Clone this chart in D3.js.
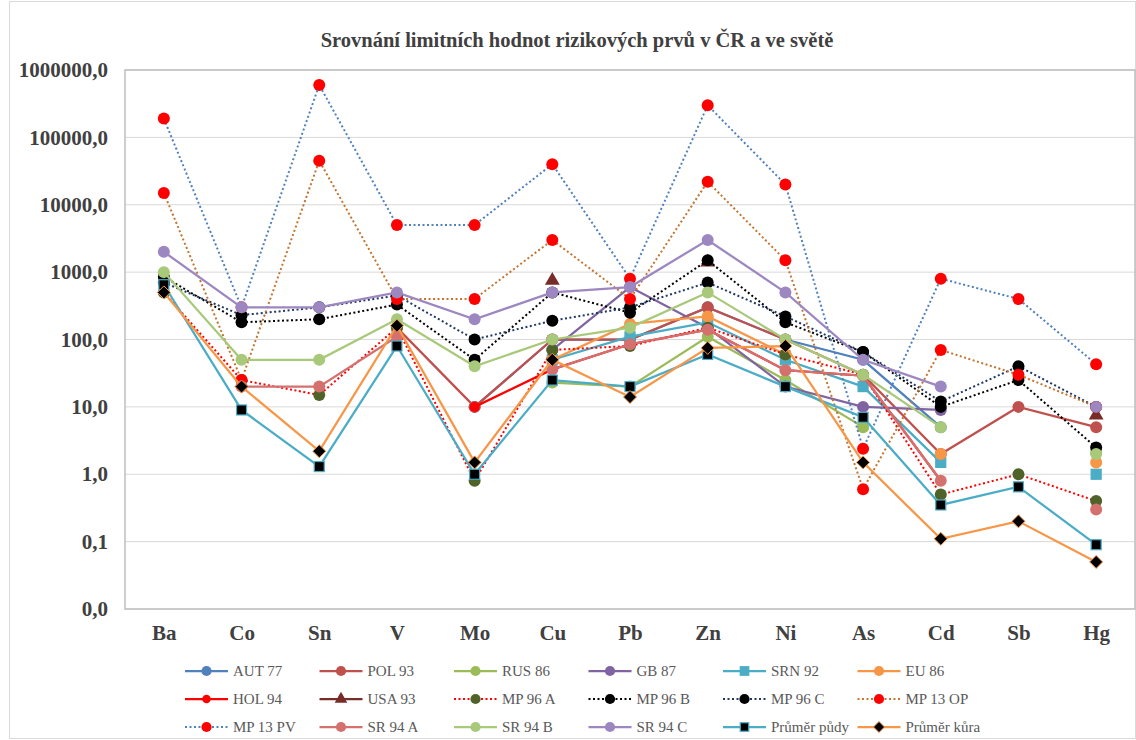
<!DOCTYPE html>
<html>
<head>
<meta charset="utf-8">
<script src="https://cdn.jsdelivr.net/npm/d3@7"></script>
<style>
  body { margin: 0; background: #fff; }
  svg { display: block; }
  svg text { font-family: "Liberation Serif", "Times New Roman", serif; }
</style>
</head>
<body>
<svg id="chart"></svg>
<script>
// Categories (elements)
const elements = ["Ba", "Co", "Sn", "V", "Mo", "Cu", "Pb", "Zn", "Ni", "As", "Cd", "Sb", "Hg"];

// Series values (mg/kg), null = no value
const aut77   = [null, null, null, null, 10, 100, 100, 300, 100, 50, 5, null, null];
const pol93   = [null, null, null, 150, 10, 100, 100, 300, 100, 30, 2, 10, 5];
const rus86   = [null, null, null, 150, null, 23, 20, 110, 25, 5, null, null, 2.1];
const gb87    = [null, null, null, null, null, 70, 600, 150, 20, 10, 9, null, null];
const srn92   = [null, null, null, null, null, 50, 110, 180, 50, 20, 1.5, null, 1];
const eu86    = [null, null, null, null, null, 50, 170, 220, 60, null, 2, null, 1.5];
const hol94   = [null, null, null, null, 10, 36, 85, 140, 35, 29, 0.8, null, 0.3];
const usa93   = [null, null, null, null, null, 750, null, 1400, null, null, null, null, 7.5];
const mp96a   = [500, 25, 15, 150, 0.8, 70, 80, 150, 60, 30, 0.5, 1, 0.4];
const mp96b   = [850, 180, 200, 330, 50, 500, 250, 1500, 180, 65, 10, 25, 2.5];
const mp96c   = [700, 230, 300, 450, 100, 190, 300, 700, 220, 65, 12, 40, 10];
const mp13op  = [15000, 25, 45000, 400, 400, 3000, 400, 22000, 1500, 0.6, 70, 30, 10];
const mp13pv  = [190000, 300, 600000, 5000, 5000, 40000, 800, 300000, 20000, 2.4, 800, 400, 43];
const sr94a   = [null, 20, 20, 110, null, 36, 85, 140, 35, 29, 0.8, null, 0.3];
const sr94b   = [1000, 50, 50, 200, 40, 100, 150, 500, 100, 30, 5, null, 2];
const sr94c   = [2000, 300, 300, 500, 200, 500, 600, 3000, 500, 50, 20, null, 10];
const prumerPudy = [650, 9, 1.3, 80, 1.0, 25, 20, 60, 20, 7, 0.35, 0.65, 0.09];
const prumerKura = [500, 20, 2.2, 160, 1.5, 50, 14, 75, 80, 1.5, 0.11, 0.2, 0.05];

// Y tick values
const yTicks = [0.01, 0.1, 1, 10, 100, 1000, 10000, 100000, 1000000];

// Series definitions (name, data, line colour, dashed, marker, marker colour)
const series = [
  { name: "AUT 77", data: aut77, color: "#4F81BD", dash: false, marker: "circle", fill: "#4F81BD" },
  { name: "POL 93", data: pol93, color: "#C0504D", dash: false, marker: "circle", fill: "#C0504D" },
  { name: "RUS 86", data: rus86, color: "#9BBB59", dash: false, marker: "circle", fill: "#9BBB59" },
  { name: "GB 87", data: gb87, color: "#8064A2", dash: false, marker: "circle", fill: "#8064A2" },
  { name: "SRN 92", data: srn92, color: "#4BACC6", dash: false, marker: "square", fill: "#4BACC6" },
  { name: "EU 86", data: eu86, color: "#F79646", dash: false, marker: "circle", fill: "#F79646" },
  { name: "HOL 94", data: hol94, color: "#FF0000", dash: false, marker: "smallcircle", fill: "#FF0000" },
  { name: "USA 93", data: usa93, color: "#772C2A", dash: false, marker: "triangle", fill: "#772C2A" },
  { name: "MP 96 A", data: mp96a, color: "#FF0000", dash: true, marker: "circle", fill: "#4F6228" },
  { name: "MP 96 B", data: mp96b, color: "#000000", dash: true, marker: "circle", fill: "#000000" },
  { name: "MP 96 C", data: mp96c, color: "#1F3864", dash: true, marker: "circle", fill: "#000000" },
  { name: "MP 13 OP", data: mp13op, color: "#C5742F", dash: true, marker: "circle", fill: "#FF0000" },
  { name: "MP 13 PV", data: mp13pv, color: "#4F81BD", dash: true, marker: "circle", fill: "#FF0000" },
  { name: "SR 94 A", data: sr94a, color: "#D4716F", dash: false, marker: "circle", fill: "#D4716F" },
  { name: "SR 94 B", data: sr94b, color: "#A8C97A", dash: false, marker: "circle", fill: "#A8C97A" },
  { name: "SR 94 C", data: sr94c, color: "#9C87C0", dash: false, marker: "circle", fill: "#9C87C0" },
  { name: "Průměr půdy", data: prumerPudy, color: "#4BACC6", dash: false, marker: "square", fill: "#000000" },
  { name: "Průměr kůra", data: prumerKura, color: "#F79646", dash: false, marker: "diamond", fill: "#000000" }
];

const width = 1136, height = 740;
const plot = { left: 125, right: 1135, top: 70, bottom: 609 };

const svg = d3.select("#chart")
  .attr("width", width)
  .attr("height", height);

// Outer chart frame
svg.append("rect")
  .attr("x", 9.5).attr("y", 1.5)
  .attr("width", 1126).attr("height", 737)
  .attr("fill", "none")
  .attr("stroke", "#d9d9d9");

// Scales
const x = d3.scalePoint()
  .domain(elements)
  .range([plot.left, plot.right])
  .padding(0.5);

const y = d3.scaleLog()
  .domain([0.01, 1000000])
  .range([plot.bottom, plot.top]);

// Title
svg.append("text")
  .attr("x", 577)
  .attr("y", 47)
  .attr("text-anchor", "middle")
  .attr("font-size", 20.5)
  .attr("font-weight", "bold")
  .attr("fill", "#404040")
  .text("Srovnání limitních hodnot rizikových prvů v ČR a ve světě");

// Gridlines
svg.append("g")
  .selectAll("line")
  .data(yTicks)
  .join("line")
  .attr("x1", plot.left)
  .attr("x2", plot.right)
  .attr("y1", d => y(d))
  .attr("y2", d => y(d))
  .attr("stroke", "#d9d9d9")
  .attr("stroke-width", 1);

// Plot border
svg.append("rect")
  .attr("x", plot.left)
  .attr("y", plot.top)
  .attr("width", plot.right - plot.left)
  .attr("height", plot.bottom - plot.top)
  .attr("fill", "none")
  .attr("stroke", "#bfbfbf")
  .attr("stroke-width", 1.5);

// Y axis
const yAxis = d3.axisLeft(y)
  .tickValues(yTicks)
  .tickSize(0)
  .tickPadding(13)
  .tickFormat(d => d3.format(".1f")(d).replace(".", ","));

svg.append("g")
  .attr("transform", `translate(${plot.left - 4},0)`)
  .call(yAxis)
  .call(g => g.select(".domain").remove())
  .selectAll("text")
  .style("font-family", "'Liberation Serif', serif")
  .attr("font-size", 21)
  .attr("font-weight", "bold")
  .attr("fill", "#404040");

// X axis
const xAxis = d3.axisBottom(x).tickSize(0).tickPadding(16);
svg.append("g")
  .attr("transform", `translate(0,${plot.bottom})`)
  .call(xAxis)
  .call(g => g.select(".domain").remove())
  .selectAll("text")
  .style("font-family", "'Liberation Serif', serif")
  .attr("font-size", 21)
  .attr("font-weight", "bold")
  .attr("fill", "#404040");

// Marker drawing
function drawMarker(sel, s, size) {
  const k = size || 1;
  if (s.marker === "circle") {
    sel.append("circle").attr("r", 6 * k).attr("fill", s.fill);
  } else if (s.marker === "smallcircle") {
    sel.append("circle").attr("r", 5 * k).attr("fill", s.fill);
  } else if (s.marker === "square") {
    sel.append("rect")
      .attr("x", -5 * k).attr("y", -5 * k)
      .attr("width", 10 * k).attr("height", 10 * k)
      .attr("fill", s.fill)
      .attr("stroke", s.color).attr("stroke-width", 1.2);
  } else if (s.marker === "diamond") {
    const r = 6.5 * k;
    sel.append("path")
      .attr("d", `M0,${-r}L${r},0L0,${r}L${-r},0Z`)
      .attr("fill", s.fill)
      .attr("stroke", s.color).attr("stroke-width", 1);
  } else if (s.marker === "triangle") {
    sel.append("path")
      .attr("d", d3.symbol(d3.symbolTriangle, 95 * k * k)())
      .attr("fill", s.fill);
  }
}

const line = d3.line()
  .defined(d => d.v != null)
  .x(d => x(d.e))
  .y(d => y(d.v));

// Series
series.forEach(s => {
  const pts = elements.map((e, i) => ({ e: e, v: s.data[i] }));
  const g = svg.append("g").attr("class", "series");

  g.append("path")
    .datum(pts)
    .attr("fill", "none")
    .attr("stroke", s.color)
    .attr("stroke-width", s.dash ? 2 : 2.25)
    .attr("stroke-dasharray", s.dash ? "2,2.5" : null)
    .attr("d", line);

  g.selectAll("g.pt")
    .data(pts.filter(d => d.v != null))
    .join("g")
    .attr("class", "pt")
    .attr("transform", d => `translate(${x(d.e)},${y(d.v)})`)
    .each(function () { drawMarker(d3.select(this), s); });
});

// Legend
const legendCols = 6;
const legend = svg.append("g");
series.forEach((s, i) => {
  const col = i % legendCols;
  const row = Math.floor(i / legendCols);
  const lx = 185 + col * 134.5;
  const ly = 671 + row * 28;
  const item = legend.append("g").attr("transform", `translate(${lx},${ly})`);
  item.append("line")
    .attr("x1", 0).attr("x2", 43)
    .attr("stroke", s.color)
    .attr("stroke-width", s.dash ? 2 : 2.25)
    .attr("stroke-dasharray", s.dash ? "2,2.5" : null);
  const m = item.append("g").attr("transform", "translate(21.5,0)");
  drawMarker(m, s, 0.85);
  item.append("text")
    .attr("x", 48)
    .attr("y", 5)
    .attr("font-size", 15)
    .attr("fill", "#595959")
    .text(s.name);
});
</script>
</body>
</html>
